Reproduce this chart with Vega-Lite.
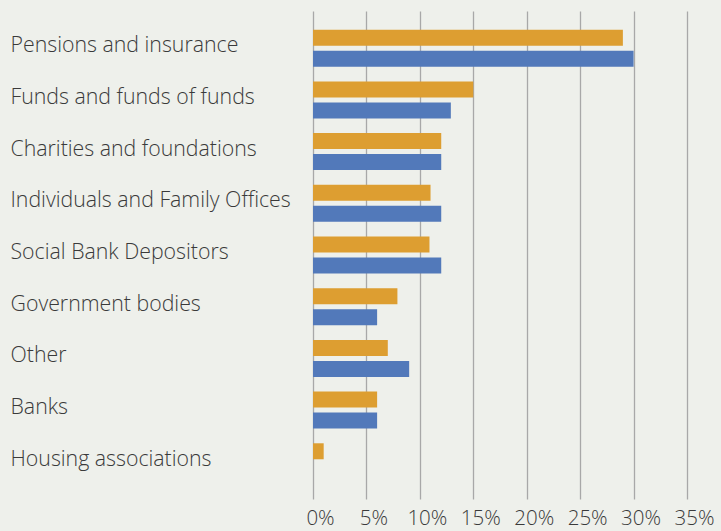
{
  "$schema": "https://vega.github.io/schema/vega-lite/v6.json",
  "width": 374,
  "height": 488,
  "autosize": "none",
  "padding": {"left": 313, "top": 11, "right": 34, "bottom": 32},
  "background": "#eef0eb",
  "config": {
    "view": {"stroke": null},
    "font": "Open Sans"
  },
  "data": {
    "values": [
      {"category": "Pensions and insurance", "series": "Series 1", "value": 29},
      {"category": "Pensions and insurance", "series": "Series 2", "value": 30},
      {"category": "Funds and funds of funds", "series": "Series 1", "value": 15},
      {"category": "Funds and funds of funds", "series": "Series 2", "value": 12.9},
      {"category": "Charities and foundations", "series": "Series 1", "value": 12},
      {"category": "Charities and foundations", "series": "Series 2", "value": 12},
      {"category": "Individuals and Family Offices", "series": "Series 1", "value": 11},
      {"category": "Individuals and Family Offices", "series": "Series 2", "value": 12},
      {"category": "Social Bank Depositors", "series": "Series 1", "value": 10.9},
      {"category": "Social Bank Depositors", "series": "Series 2", "value": 12},
      {"category": "Government bodies", "series": "Series 1", "value": 7.9},
      {"category": "Government bodies", "series": "Series 2", "value": 6},
      {"category": "Other", "series": "Series 1", "value": 7},
      {"category": "Other", "series": "Series 2", "value": 9},
      {"category": "Banks", "series": "Series 1", "value": 6},
      {"category": "Banks", "series": "Series 2", "value": 6},
      {"category": "Housing associations", "series": "Series 1", "value": 1},
      {"category": "Housing associations", "series": "Series 2", "value": 0}
    ]
  },
  "mark": {"type": "bar"},
  "encoding": {
    "y": {
      "field": "category",
      "type": "nominal",
      "sort": null,
      "scale": {"paddingInner": 0, "paddingOuter": 0.22},
      "axis": {
        "title": null,
        "domain": false,
        "ticks": false,
        "labelAlign": "left",
        "labelBaseline": "middle",
        "labelPadding": 303,
        "labelLimit": 400,
        "labelFontSize": 21.3,
        "labelFontWeight": 300,
        "labelColor": "#3a3a3a",
        "labelOffset": -2
      }
    },
    "yOffset": {
      "field": "series",
      "type": "nominal",
      "sort": ["Series 1", "Series 2"],
      "scale": {"paddingInner": 0.238, "paddingOuter": 0.35}
    },
    "x": {
      "field": "value",
      "type": "quantitative",
      "scale": {"domain": [0, 35], "nice": false},
      "axis": {
        "title": null,
        "domain": false,
        "ticks": false,
        "values": [0, 5, 10, 15, 20, 25, 30, 35],
        "labelExpr": "datum.value + '%'",
        "labelFontSize": 20.5,
        "labelFontWeight": 300,
        "labelColor": "#3a3a3a",
        "labelPadding": 9,
        "labelOffset": 7,
        "labelFlush": false,
        "labelOverlap": false,
        "grid": true,
        "gridColor": "#a8a8a8",
        "gridWidth": 1.3
      }
    },
    "color": {
      "field": "series",
      "type": "nominal",
      "scale": {"domain": ["Series 1", "Series 2"], "range": ["#dd9e31", "#5279ba"]},
      "legend": null
    }
  }
}
